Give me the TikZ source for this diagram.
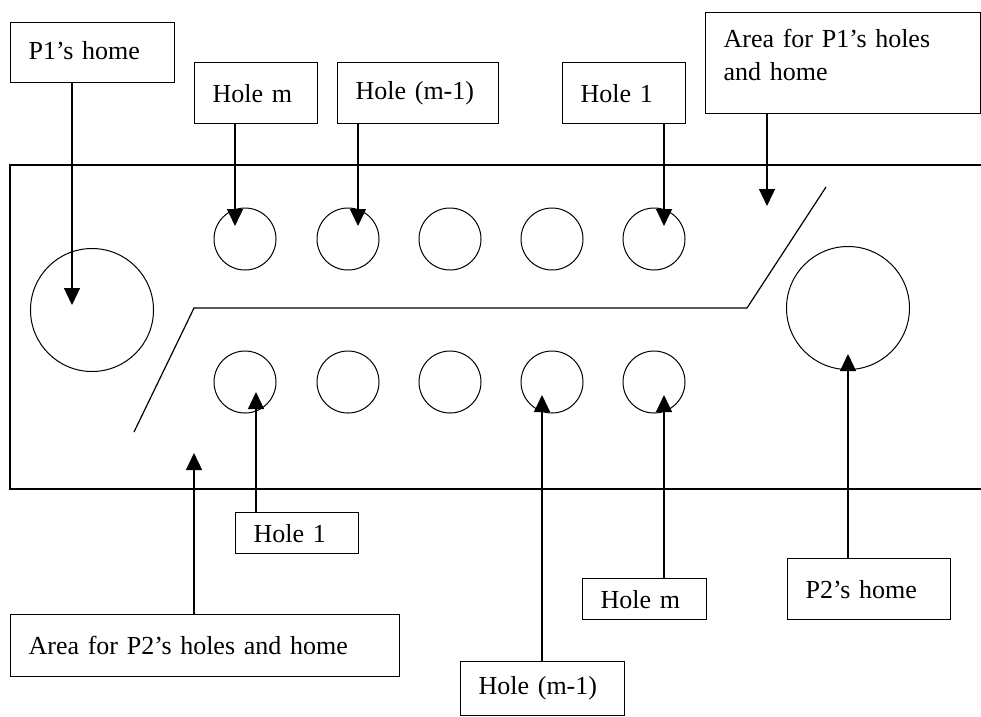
\documentclass[tikz,border=0pt]{standalone}
\usepackage{fontspec}
\setmainfont{Liberation Serif}
\usetikzlibrary{arrows.meta}
\begin{document}
\begin{tikzpicture}[x=1pt,y=-1pt,
  every node/.style={font=\fontsize{26}{33}\selectfont},
  lbl/.style={draw, line width=1.3pt, rectangle, anchor=north west, align=left, inner xsep=18pt, inner ysep=0pt},
  hole/.style={draw, line width=1pt, circle, minimum size=62pt, inner sep=0pt},
  homec/.style={draw, line width=1pt, circle, minimum size=123pt, inner sep=0pt},
  arr/.style={line width=1.2pt, -{Triangle[width=16pt,length=17pt]}},
  ln/.style={line width=1.2pt}]
\useasboundingbox (0,0) rectangle (981,716);
% board
\draw[ln] (981,165) -- (10,165) -- (10,489) -- (981,489);
% divider
\coordinate (d1) at (826,187);
\coordinate (d2) at (747,308);
\coordinate (d3) at (194,308);
\coordinate (d4) at (134,432);
\draw[ln] (d1) -- (d2) -- (d3) -- (d4);
% homes
\node[homec] (p1c) at (92,310) {};
\node[homec] (p2c) at (848,308) {};
% holes
\foreach \i/\x in {1/245,2/348,3/450,4/552,5/654}{
  \node[hole] (t\i) at (\x,239) {};
  \node[hole] (b\i) at (\x,382) {};
}
% label boxes
\node[lbl, text width=128pt, minimum height=60pt] (lp1) at (10,22) {P1’s home\\[-28pt]\mbox{}};
\node[lbl, text width=87pt, minimum height=61pt] (ltm) at (194,62) {Hole m};
\node[lbl, text width=125pt, minimum height=61pt] (ltm1) at (337,62) {Hole (m-1)};
\node[lbl, text width=87pt, minimum height=61pt] (lt1) at (562,62) {Hole 1};
\node[lbl, text width=239pt, minimum height=101pt, anchor=north west] (la1) at (705,12) {Area for P1’s holes\\and home\\[-16pt]\mbox{}};
\node[lbl, text width=87pt, minimum height=41pt] (lb1) at (235,512) {Hole 1};
\node[lbl, text width=88pt, minimum height=41pt] (lbm) at (582,578) {Hole m};
\node[lbl, text width=128pt, minimum height=54pt] (lbm1) at (460,661) {Hole (m-1)};
\node[lbl, text width=127pt, minimum height=61pt] (lp2) at (787,558) {P2’s home};
\node[lbl, text width=353pt, minimum height=62pt] (la2) at (10,614) {Area for P2’s holes and home};
% arrow tips
\coordinate (a1) at (72,305);
\coordinate (a2) at (235,226);
\coordinate (a3) at (358,226);
\coordinate (a4) at (664,226);
\coordinate (a5) at (767,206);
\coordinate (a6) at (256,392);
\coordinate (a7) at (542,395);
\coordinate (a8) at (664,395);
\coordinate (a9) at (848,354);
\coordinate (a10) at (194,453);
\draw[arr] (lp1.south -| a1) -- (a1);
\draw[arr] (ltm.south -| a2) -- (a2);
\draw[arr] (ltm1.south -| a3) -- (a3);
\draw[arr] (lt1.south -| a4) -- (a4);
\draw[arr] (la1.south -| a5) -- (a5);
\draw[arr] (lb1.north -| a6) -- (a6);
\draw[arr] (lbm1.north -| a7) -- (a7);
\draw[arr] (lbm.north -| a8) -- (a8);
\draw[arr] (lp2.north -| a9) -- (a9);
\draw[arr] (la2.north -| a10) -- (a10);
\end{tikzpicture}
\end{document}
